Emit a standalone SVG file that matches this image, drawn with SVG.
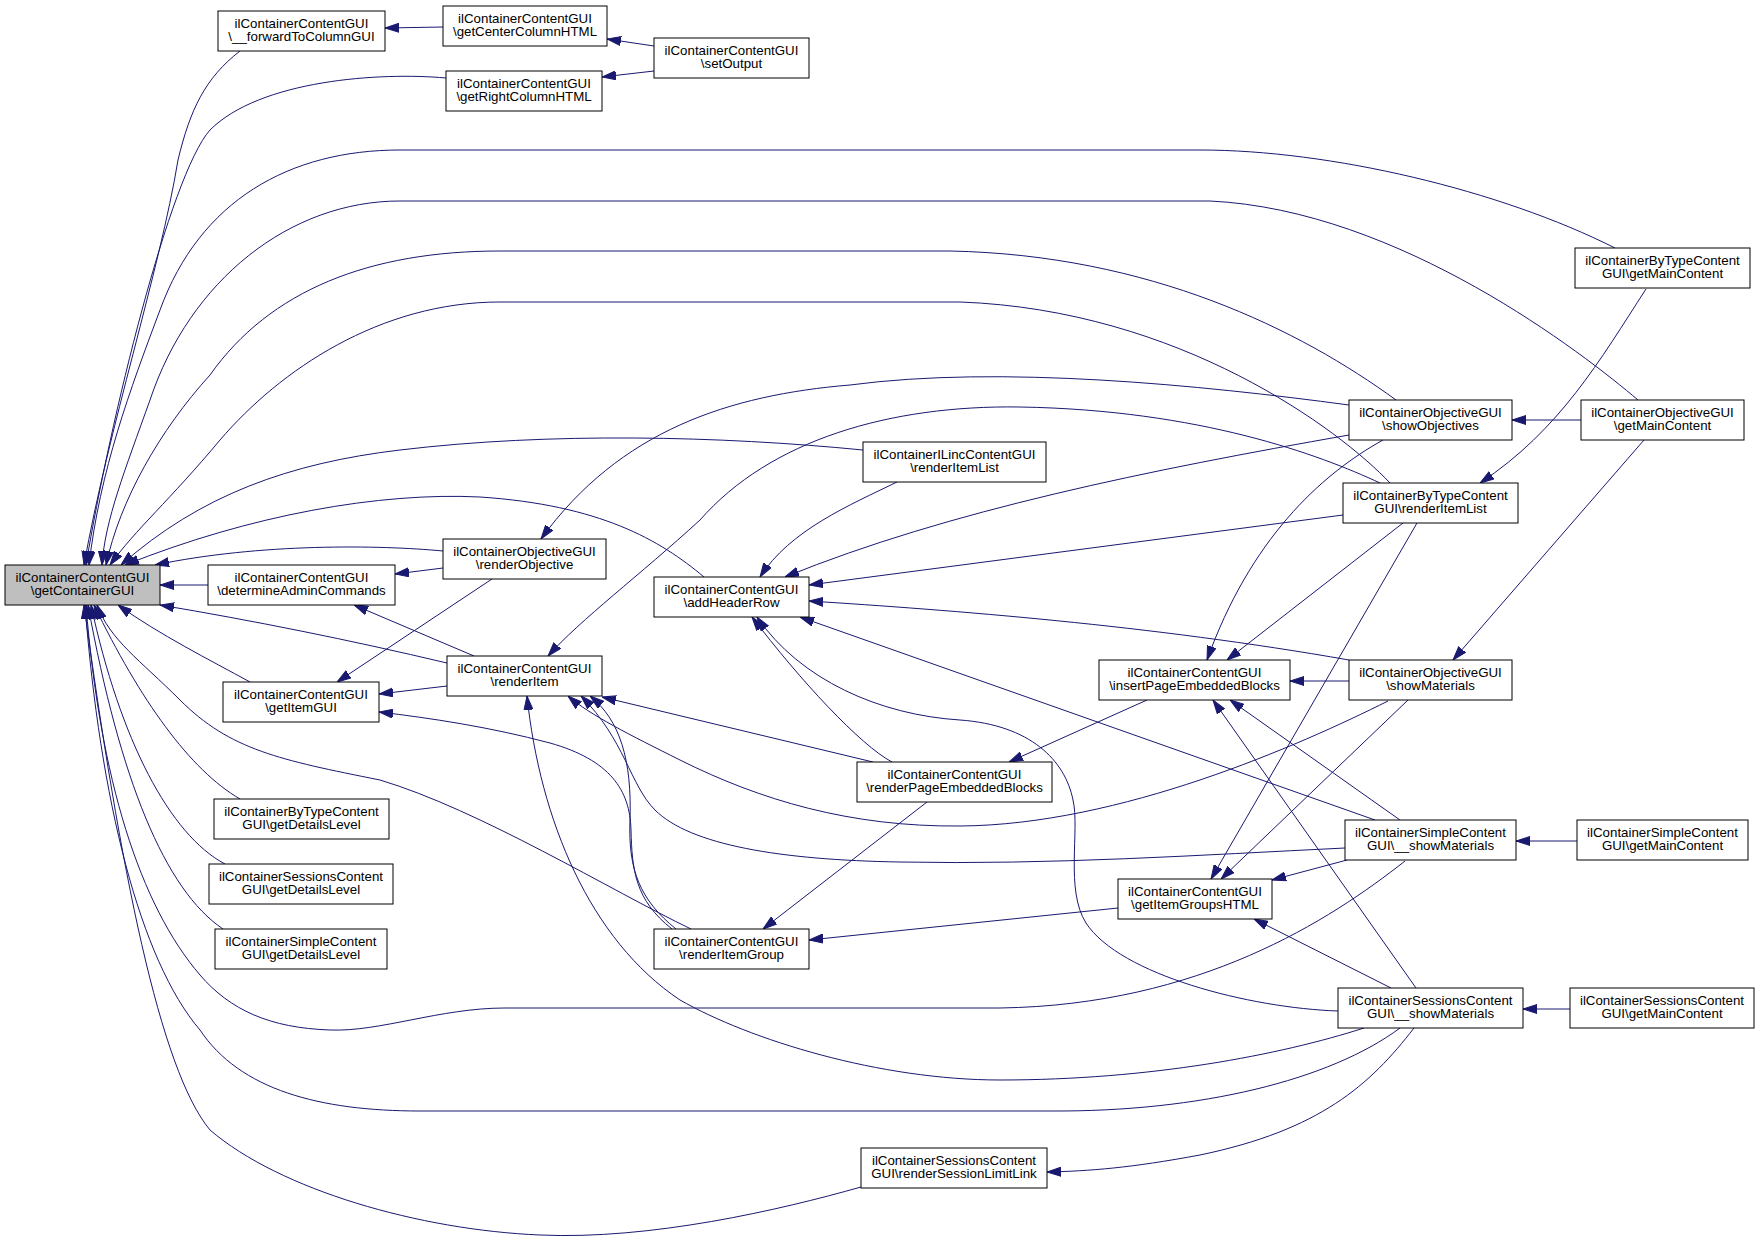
<svg xmlns="http://www.w3.org/2000/svg" width="1760" height="1241" viewBox="0 0 1760 1241">
<style>
.node rect{fill:#ffffff;stroke:#000000;stroke-width:1}
.node.hl rect{fill:#bfbfbf}
.node text{font-family:"Liberation Sans",Arial,Helvetica,sans-serif;font-size:13.3px;text-anchor:middle;fill:#000000}
.edge{fill:none;stroke:#191970;stroke-width:1;marker-end:url(#arr)}
</style>
<defs>
<marker id="arr" markerUnits="userSpaceOnUse" markerWidth="14" markerHeight="10" viewBox="0 0 14 10" refX="14" refY="5" orient="auto">
<path d="M0,0.5 L14,5 L0,9.5 Z" fill="#191970" stroke="#191970" stroke-width="1"/>
</marker>
</defs>
<rect x="0" y="0" width="1760" height="1241" fill="#ffffff"/>
<g id="edges">
<path class="edge" d="M443,27 L385,28"/>
<path class="edge" d="M654,46 L607,39"/>
<path class="edge" d="M654,71 L602,77"/>
<path class="edge" d="M240,51 C205,78 190,110 178,160 C160,270 108,430 84,565"/>
<path class="edge" d="M446,78 C380,72 260,80 210,130 C170,175 110,420 86,565"/>
<path class="edge" d="M1615,248 C1500,190 1330,150 1200,150 L400,150 C290,150 200,200 160,310 C130,390 100,470 89,565"/>
<path class="edge" d="M1638,400 C1585,355 1400,210 1210,201 L400,201 C290,201 190,280 150,400 C125,470 105,520 102,565"/>
<path class="edge" d="M1396,400 C1300,330 1150,255 950,251 L500,251 C370,251 270,290 210,375 C160,430 120,500 106,565"/>
<path class="edge" d="M1390,483 C1340,430 1180,310 960,302 L500,302 C380,302 280,370 220,440 C170,500 135,530 110,565"/>
<path class="edge" d="M863,450 C720,436 550,432 400,450 C290,463 200,495 121,565"/>
<path class="edge" d="M704,577 C660,540 600,505 480,497 C380,492 250,515 125,565"/>
<path class="edge" d="M443,551 C380,545 260,543 155,565"/>
<path class="edge" d="M208,585 L160,585"/>
<path class="edge" d="M447,663 C350,640 250,620 160,605"/>
<path class="edge" d="M250,682 C210,660 160,635 118,605"/>
<path class="edge" d="M691,929 C610,890 480,810 380,780 C280,760 230,750 180,700 C140,660 110,640 97,605"/>
<path class="edge" d="M240,799 C190,770 140,700 94,605"/>
<path class="edge" d="M225,864 C170,835 120,740 91,605"/>
<path class="edge" d="M223,929 C165,890 120,780 88,605"/>
<path class="edge" d="M1405,861 C1330,920 1200,1005 1000,1008 L505,1008 C440,1008 380,1032 330,1030 C270,1028 230,1010 200,975 C140,905 100,780 86,605"/>
<path class="edge" d="M1400,1028 C1330,1080 1200,1112 1050,1111 L420,1111 C320,1111 240,1090 200,1030 C140,960 100,800 85,605"/>
<path class="edge" d="M861,1187 C780,1210 650,1240 540,1235 C420,1230 280,1190 210,1130 C160,1070 120,870 84,605"/>
<path class="edge" d="M474,656 L354,605"/>
<path class="edge" d="M443,568 L395,574"/>
<path class="edge" d="M492,579 L337,682"/>
<path class="edge" d="M447,686 L379,694"/>
<path class="edge" d="M1380,483 C1320,455 1200,410 1020,407 C890,405 770,440 700,520 C640,575 580,620 548,656"/>
<path class="edge" d="M1349,405 C1200,385 1000,365 850,385 C730,395 620,430 541,539"/>
<path class="edge" d="M897,482 C850,505 790,530 760,577"/>
<path class="edge" d="M1349,435 C1150,470 950,510 785,577"/>
<path class="edge" d="M1343,515 L809,585"/>
<path class="edge" d="M1349,660 C1150,625 950,610 809,601"/>
<path class="edge" d="M1375,820 L800,617"/>
<path class="edge" d="M892,762 C860,745 800,680 752,617"/>
<path class="edge" d="M1338,1011 C1250,1008 1120,975 1086,923 C1065,890 1080,830 1073,800 C1065,760 1030,725 960,720 C880,715 800,680 757,617"/>
<path class="edge" d="M1345,848 C1200,855 1050,865 900,862 C780,860 690,845 655,810 C630,785 625,740 581,696"/>
<path class="edge" d="M1388,701 C1300,745 1120,825 960,826 C850,827 760,800 680,760 C630,735 590,715 568,696"/>
<path class="edge" d="M676,929 C640,900 628,870 630,820 C632,760 620,720 590,696"/>
<path class="edge" d="M672,929 C635,900 632,870 631,830 C630,790 610,760 550,743 C490,727 430,718 379,712"/>
<path class="edge" d="M873,762 L602,697"/>
<path class="edge" d="M1364,1028 C1280,1055 1150,1080 1000,1080 C880,1080 750,1040 680,1000 C590,940 540,820 527,696"/>
<path class="edge" d="M1147,700 L1009,762"/>
<path class="edge" d="M927,802 L763,929"/>
<path class="edge" d="M1118,908 L809,940"/>
<path class="edge" d="M1383,440 C1320,475 1250,540 1207,660"/>
<path class="edge" d="M1403,523 L1227,660"/>
<path class="edge" d="M1349,681 L1290,681"/>
<path class="edge" d="M1416,988 L1213,700"/>
<path class="edge" d="M1400,820 L1230,700"/>
<path class="edge" d="M1417,523 L1211,879"/>
<path class="edge" d="M1408,700 L1221,879"/>
<path class="edge" d="M1347,860 L1272,880"/>
<path class="edge" d="M1391,988 L1254,919"/>
<path class="edge" d="M1414,1028 C1370,1085 1320,1130 1200,1155 C1130,1168 1090,1171 1047,1172"/>
<path class="edge" d="M1570,1009 L1523,1009"/>
<path class="edge" d="M1577,841 L1516,841"/>
<path class="edge" d="M1581,420 L1512,420"/>
<path class="edge" d="M1644,440 L1453,660"/>
<path class="edge" d="M1646,289 C1600,360 1560,430 1480,483"/>
</g>
<g id="getContainerGUI" class="node hl"><rect x="5" y="565" width="155" height="40"/><text x="82.5" y="581.8">ilContainerContentGUI</text><text x="82.5" y="595.3">\getContainerGUI</text></g>
<g id="forwardToColumnGUI" class="node"><rect x="218" y="11" width="167" height="40"/><text x="301.5" y="27.8">ilContainerContentGUI</text><text x="301.5" y="41.3">\__forwardToColumnGUI</text></g>
<g id="getCenterColumnHTML" class="node"><rect x="443" y="6" width="164" height="40"/><text x="525" y="22.8">ilContainerContentGUI</text><text x="525" y="36.3">\getCenterColumnHTML</text></g>
<g id="setOutput" class="node"><rect x="654" y="38" width="155" height="40"/><text x="731.5" y="54.8">ilContainerContentGUI</text><text x="731.5" y="68.3">\setOutput</text></g>
<g id="getRightColumnHTML" class="node"><rect x="446" y="71" width="156" height="40"/><text x="524" y="87.8">ilContainerContentGUI</text><text x="524" y="101.3">\getRightColumnHTML</text></g>
<g id="byTypeGetMainContent" class="node"><rect x="1575" y="248" width="175" height="40"/><text x="1662.5" y="264.8">ilContainerByTypeContent</text><text x="1662.5" y="278.3">GUI\getMainContent</text></g>
<g id="objectiveGetMainContent" class="node"><rect x="1581" y="400" width="163" height="40"/><text x="1662.5" y="416.8">ilContainerObjectiveGUI</text><text x="1662.5" y="430.3">\getMainContent</text></g>
<g id="showObjectives" class="node"><rect x="1349" y="400" width="163" height="40"/><text x="1430.5" y="416.8">ilContainerObjectiveGUI</text><text x="1430.5" y="430.3">\showObjectives</text></g>
<g id="ilincRenderItemList" class="node"><rect x="863" y="442" width="183" height="40"/><text x="954.5" y="458.8">ilContainerILincContentGUI</text><text x="954.5" y="472.3">\renderItemList</text></g>
<g id="byTypeRenderItemList" class="node"><rect x="1343" y="483" width="175" height="40"/><text x="1430.5" y="499.8">ilContainerByTypeContent</text><text x="1430.5" y="513.3">GUI\renderItemList</text></g>
<g id="renderObjective" class="node"><rect x="443" y="539" width="163" height="40"/><text x="524.5" y="555.8">ilContainerObjectiveGUI</text><text x="524.5" y="569.3">\renderObjective</text></g>
<g id="determineAdminCommands" class="node"><rect x="208" y="565" width="187" height="40"/><text x="301.5" y="581.8">ilContainerContentGUI</text><text x="301.5" y="595.3">\determineAdminCommands</text></g>
<g id="addHeaderRow" class="node"><rect x="654" y="577" width="155" height="40"/><text x="731.5" y="593.8">ilContainerContentGUI</text><text x="731.5" y="607.3">\addHeaderRow</text></g>
<g id="renderItem" class="node"><rect x="447" y="656" width="155" height="40"/><text x="524.5" y="672.8">ilContainerContentGUI</text><text x="524.5" y="686.3">\renderItem</text></g>
<g id="getItemGUI" class="node"><rect x="223" y="682" width="156" height="40"/><text x="301" y="698.8">ilContainerContentGUI</text><text x="301" y="712.3">\getItemGUI</text></g>
<g id="insertPageEmbeddedBlocks" class="node"><rect x="1099" y="660" width="191" height="40"/><text x="1194.5" y="676.8">ilContainerContentGUI</text><text x="1194.5" y="690.3">\insertPageEmbeddedBlocks</text></g>
<g id="objectiveShowMaterials" class="node"><rect x="1349" y="660" width="163" height="40"/><text x="1430.5" y="676.8">ilContainerObjectiveGUI</text><text x="1430.5" y="690.3">\showMaterials</text></g>
<g id="renderPageEmbeddedBlocks" class="node"><rect x="857" y="762" width="195" height="40"/><text x="954.5" y="778.8">ilContainerContentGUI</text><text x="954.5" y="792.3">\renderPageEmbeddedBlocks</text></g>
<g id="byTypeGetDetailsLevel" class="node"><rect x="214" y="799" width="175" height="40"/><text x="301.5" y="815.8">ilContainerByTypeContent</text><text x="301.5" y="829.3">GUI\getDetailsLevel</text></g>
<g id="sessionsGetDetailsLevel" class="node"><rect x="209" y="864" width="184" height="40"/><text x="301" y="880.8">ilContainerSessionsContent</text><text x="301" y="894.3">GUI\getDetailsLevel</text></g>
<g id="simpleGetDetailsLevel" class="node"><rect x="215" y="929" width="172" height="40"/><text x="301" y="945.8">ilContainerSimpleContent</text><text x="301" y="959.3">GUI\getDetailsLevel</text></g>
<g id="simpleShowMaterials" class="node"><rect x="1345" y="820" width="171" height="40"/><text x="1430.5" y="836.8">ilContainerSimpleContent</text><text x="1430.5" y="850.3">GUI\__showMaterials</text></g>
<g id="simpleGetMainContent" class="node"><rect x="1577" y="820" width="171" height="40"/><text x="1662.5" y="836.8">ilContainerSimpleContent</text><text x="1662.5" y="850.3">GUI\getMainContent</text></g>
<g id="getItemGroupsHTML" class="node"><rect x="1118" y="879" width="154" height="40"/><text x="1195" y="895.8">ilContainerContentGUI</text><text x="1195" y="909.3">\getItemGroupsHTML</text></g>
<g id="renderItemGroup" class="node"><rect x="654" y="929" width="155" height="40"/><text x="731.5" y="945.8">ilContainerContentGUI</text><text x="731.5" y="959.3">\renderItemGroup</text></g>
<g id="sessionsShowMaterials" class="node"><rect x="1338" y="988" width="185" height="40"/><text x="1430.5" y="1004.8">ilContainerSessionsContent</text><text x="1430.5" y="1018.3">GUI\__showMaterials</text></g>
<g id="sessionsGetMainContent" class="node"><rect x="1570" y="988" width="184" height="40"/><text x="1662" y="1004.8">ilContainerSessionsContent</text><text x="1662" y="1018.3">GUI\getMainContent</text></g>
<g id="renderSessionLimitLink" class="node"><rect x="861" y="1148" width="186" height="40"/><text x="954" y="1164.8">ilContainerSessionsContent</text><text x="954" y="1178.3">GUI\renderSessionLimitLink</text></g>
</svg>
